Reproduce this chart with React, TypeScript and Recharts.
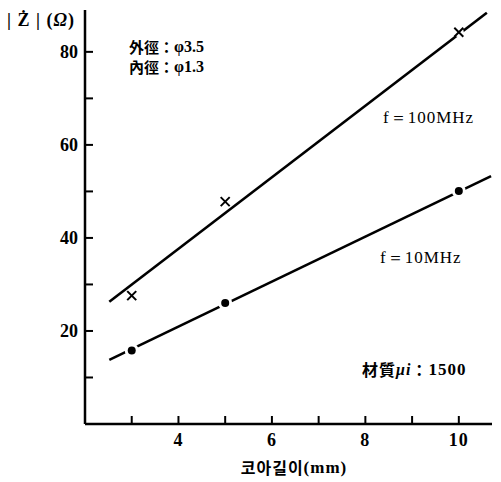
import React from "react";
import { ComposedChart, Line, Scatter, XAxis, YAxis } from "recharts";

// measured points
const pts100MHz = [
  { x: 3, y: 27.6 },
  { x: 5, y: 47.8 },
  { x: 10, y: 84.2 },
];
const pts10MHz = [
  { x: 3, y: 15.8 },
  { x: 5, y: 26 },
  { x: 10, y: 50.1 },
];
// fitted straight lines (end points)
const fit100MHz = [
  { x: 2.52, y: 26.3 },
  { x: 10.6, y: 88.4 },
];
const fit10MHz = [
  { x: 2.52, y: 13.8 },
  { x: 10.69, y: 53.3 },
];
const xTicks = [3, 4, 5, 6, 7, 8, 9, 10];
const xLabeled = [4, 6, 8, 10];
const yTicks = [10, 20, 30, 40, 50, 60, 70, 80];
const yLabeled = [20, 40, 60, 80];

const W = 501;
const H = 482;
const PLOT_LEFT = 85;
const PLOT_BOTTOM = 424;
const SERIF = "'Liberation Serif', 'DejaVu Serif', serif";
const CJK = "'Noto Sans CJK KR', 'Noto Sans CJK JP', sans-serif";

const YTick = (props: any) => {
  const { y, payload } = props;
  const v = payload.value;
  return (
    <g>
      <line x1={PLOT_LEFT} x2={PLOT_LEFT + 8} y1={y} y2={y} stroke="#000" strokeWidth={2} />
      {yLabeled.includes(v) && (
        <text x={PLOT_LEFT - 7} y={y} textAnchor="end" dominantBaseline="central" fontFamily={SERIF} fontWeight="bold" fontSize={18} fill="#000">
          {v}
        </text>
      )}
    </g>
  );
};

const XTick = (props: any) => {
  const { x, payload } = props;
  const v = payload.value;
  return (
    <g>
      <line x1={x} x2={x} y1={PLOT_BOTTOM} y2={PLOT_BOTTOM - 8} stroke="#000" strokeWidth={2} />
      {xLabeled.includes(v) && (
        <text x={x} y={PLOT_BOTTOM + 16} textAnchor="middle" dominantBaseline="central" fontFamily={SERIF} fontWeight="bold" fontSize={18} letterSpacing={1} fill="#000">
          {v}
        </text>
      )}
    </g>
  );
};

const Cross = (props: any) => {
  const { cx, cy } = props;
  const s = 4.5;
  return (
    <g>
      <circle cx={cx} cy={cy} r={5} fill="#fff" />
      <line x1={cx - s} y1={cy - s} x2={cx + s} y2={cy + s} stroke="#000" strokeWidth={2} />
      <line x1={cx - s} y1={cy + s} x2={cx + s} y2={cy - s} stroke="#000" strokeWidth={2} />
    </g>
  );
};

const Dot = (props: any) => {
  const { cx, cy } = props;
  return (
    <g>
      <circle cx={cx} cy={cy} r={7} fill="#fff" />
      <circle cx={cx} cy={cy} r={4} fill="#000" />
    </g>
  );
};

export default function App() {
  return (
    <div style={{ position: "absolute", left: 0, top: 0, width: W, height: H, background: "#fff" }}>
      <ComposedChart width={W} height={H} margin={{ top: 10, right: 9, left: 0, bottom: 0 }}>
        <XAxis
          type="number"
          dataKey="x"
          domain={[2, 10.71]}
          ticks={xTicks}
          allowDataOverflow
          height={58}
          axisLine={{ stroke: "#000", strokeWidth: 2.5 }}
          tickLine={false}
          tick={<XTick />}
          interval={0}
        />
        <YAxis
          type="number"
          dataKey="y"
          domain={[0, 89]}
          ticks={yTicks}
          allowDataOverflow
          width={85}
          axisLine={{ stroke: "#000", strokeWidth: 2.5 }}
          tickLine={false}
          tick={<YTick />}
          interval={0}
        />
        <Line data={fit100MHz} dataKey="y" stroke="#000" strokeWidth={2.6} dot={false} isAnimationActive={false} />
        <Line data={fit10MHz} dataKey="y" stroke="#000" strokeWidth={2.6} dot={false} isAnimationActive={false} />
        <Scatter data={pts100MHz} dataKey="y" shape={<Cross />} isAnimationActive={false} />
        <Scatter data={pts10MHz} dataKey="y" shape={<Dot />} isAnimationActive={false} />
      </ComposedChart>
      <svg width={W} height={H} style={{ position: "absolute", left: 0, top: 0, pointerEvents: "none" }}>
        <text x={7} y={20} dominantBaseline="central" fontFamily={SERIF} fontWeight="bold" fontSize={18} letterSpacing={1} fill="#000">
          | Ż | (<tspan fontStyle="italic">Ω</tspan>)
        </text>
        <text x={129} y={46} dominantBaseline="central" fontFamily={CJK} fontWeight="bold" fontSize={15} fill="#000">
          外徑：<tspan fontFamily={SERIF} fontSize={16}>φ3.5</tspan>
        </text>
        <text x={129} y={66} dominantBaseline="central" fontFamily={CJK} fontWeight="bold" fontSize={15} fill="#000">
          內徑：<tspan fontFamily={SERIF} fontSize={16}>φ1.3</tspan>
        </text>
        <text x={383} y={117} dominantBaseline="central" fontFamily={SERIF} fontSize={17} letterSpacing={1} fill="#000">
          f＝100MHz
        </text>
        <text x={380} y={257} dominantBaseline="central" fontFamily={SERIF} fontSize={17} letterSpacing={1} fill="#000">
          f＝10MHz
        </text>
        <text x={362} y={369} dominantBaseline="central" fontFamily={CJK} fontWeight="bold" fontSize={16} letterSpacing={1} fill="#000">
          材質<tspan fontFamily={SERIF} fontStyle="italic">μi</tspan>：<tspan fontFamily={SERIF} fontSize={17}>1500</tspan>
        </text>
        <text x={294} y={467} textAnchor="middle" dominantBaseline="central" fontFamily={CJK} fontWeight="bold" fontSize={16} letterSpacing={1} fill="#000">
          코아길이<tspan fontFamily={SERIF} fontSize={17}>(mm)</tspan>
        </text>
      </svg>
    </div>
  );
}
